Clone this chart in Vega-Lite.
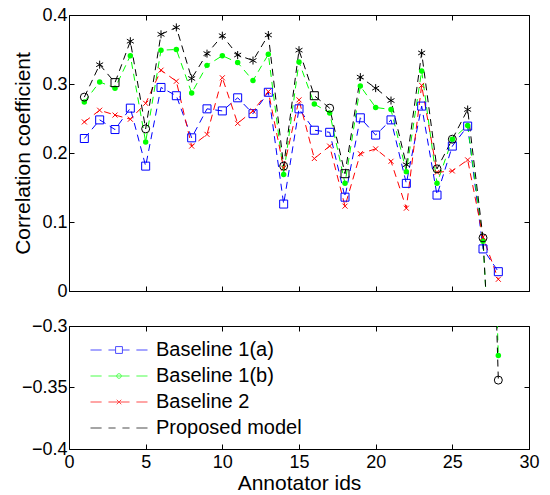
{
  "$schema": "https://vega.github.io/schema/vega-lite/v6.json",
  "padding": {"left": 12, "top": 5, "right": 10, "bottom": 5},
  "background": "white",
  "config": {
    "font": "Liberation Sans",
    "view": {"stroke": "black", "strokeWidth": 1},
    "axis": {
      "grid": false, "domain": false, "tickColor": "black", "tickSize": -5, "tickWidth": 1,
      "labelFont": "Liberation Sans", "labelFontSize": 18, "labelColor": "black",
      "titleFont": "Liberation Sans", "titleFontSize": 21, "titleFontWeight": "normal", "titleColor": "black",
      "labelFlush": false, "labelOverlap": false, "labelPadding": 9
    }
  },
  "datasets": {
    "d": [
      {"id": 1, "series": "Baseline 1(a)", "value": 0.221},
      {"id": 2, "series": "Baseline 1(a)", "value": 0.248},
      {"id": 3, "series": "Baseline 1(a)", "value": 0.234},
      {"id": 4, "series": "Baseline 1(a)", "value": 0.265},
      {"id": 5, "series": "Baseline 1(a)", "value": 0.181},
      {"id": 6, "series": "Baseline 1(a)", "value": 0.295},
      {"id": 7, "series": "Baseline 1(a)", "value": 0.283},
      {"id": 8, "series": "Baseline 1(a)", "value": 0.222},
      {"id": 9, "series": "Baseline 1(a)", "value": 0.264},
      {"id": 10, "series": "Baseline 1(a)", "value": 0.261},
      {"id": 11, "series": "Baseline 1(a)", "value": 0.280},
      {"id": 12, "series": "Baseline 1(a)", "value": 0.257},
      {"id": 13, "series": "Baseline 1(a)", "value": 0.288},
      {"id": 14, "series": "Baseline 1(a)", "value": 0.126},
      {"id": 15, "series": "Baseline 1(a)", "value": 0.264},
      {"id": 16, "series": "Baseline 1(a)", "value": 0.233},
      {"id": 17, "series": "Baseline 1(a)", "value": 0.230},
      {"id": 18, "series": "Baseline 1(a)", "value": 0.136},
      {"id": 19, "series": "Baseline 1(a)", "value": 0.251},
      {"id": 20, "series": "Baseline 1(a)", "value": 0.226},
      {"id": 21, "series": "Baseline 1(a)", "value": 0.248},
      {"id": 22, "series": "Baseline 1(a)", "value": 0.156},
      {"id": 23, "series": "Baseline 1(a)", "value": 0.268},
      {"id": 24, "series": "Baseline 1(a)", "value": 0.139},
      {"id": 25, "series": "Baseline 1(a)", "value": 0.210},
      {"id": 26, "series": "Baseline 1(a)", "value": 0.239},
      {"id": 27, "series": "Baseline 1(a)", "value": 0.061},
      {"id": 28, "series": "Baseline 1(a)", "value": 0.028},
      {"id": 1, "series": "Baseline 1(b)", "value": 0.274},
      {"id": 2, "series": "Baseline 1(b)", "value": 0.303},
      {"id": 3, "series": "Baseline 1(b)", "value": 0.294},
      {"id": 4, "series": "Baseline 1(b)", "value": 0.341},
      {"id": 5, "series": "Baseline 1(b)", "value": 0.216},
      {"id": 6, "series": "Baseline 1(b)", "value": 0.349},
      {"id": 7, "series": "Baseline 1(b)", "value": 0.350},
      {"id": 8, "series": "Baseline 1(b)", "value": 0.287},
      {"id": 9, "series": "Baseline 1(b)", "value": 0.327},
      {"id": 10, "series": "Baseline 1(b)", "value": 0.341},
      {"id": 11, "series": "Baseline 1(b)", "value": 0.331},
      {"id": 12, "series": "Baseline 1(b)", "value": 0.305},
      {"id": 13, "series": "Baseline 1(b)", "value": 0.343},
      {"id": 14, "series": "Baseline 1(b)", "value": 0.169},
      {"id": 15, "series": "Baseline 1(b)", "value": 0.332},
      {"id": 16, "series": "Baseline 1(b)", "value": 0.271},
      {"id": 17, "series": "Baseline 1(b)", "value": 0.258},
      {"id": 18, "series": "Baseline 1(b)", "value": 0.156},
      {"id": 19, "series": "Baseline 1(b)", "value": 0.297},
      {"id": 20, "series": "Baseline 1(b)", "value": 0.266},
      {"id": 21, "series": "Baseline 1(b)", "value": 0.263},
      {"id": 22, "series": "Baseline 1(b)", "value": 0.173},
      {"id": 23, "series": "Baseline 1(b)", "value": 0.319},
      {"id": 24, "series": "Baseline 1(b)", "value": 0.156},
      {"id": 25, "series": "Baseline 1(b)", "value": 0.220},
      {"id": 26, "series": "Baseline 1(b)", "value": 0.240},
      {"id": 27, "series": "Baseline 1(b)", "value": 0.072},
      {"id": 28, "series": "Baseline 1(b)", "value": -0.324},
      {"id": 1, "series": "Baseline 2", "value": 0.245},
      {"id": 2, "series": "Baseline 2", "value": 0.262},
      {"id": 3, "series": "Baseline 2", "value": 0.255},
      {"id": 4, "series": "Baseline 2", "value": 0.249},
      {"id": 5, "series": "Baseline 2", "value": 0.272},
      {"id": 6, "series": "Baseline 2", "value": 0.320},
      {"id": 7, "series": "Baseline 2", "value": 0.304},
      {"id": 8, "series": "Baseline 2", "value": 0.210},
      {"id": 9, "series": "Baseline 2", "value": 0.227},
      {"id": 10, "series": "Baseline 2", "value": 0.309},
      {"id": 11, "series": "Baseline 2", "value": 0.243},
      {"id": 12, "series": "Baseline 2", "value": 0.261},
      {"id": 13, "series": "Baseline 2", "value": 0.289},
      {"id": 14, "series": "Baseline 2", "value": 0.178},
      {"id": 15, "series": "Baseline 2", "value": 0.277},
      {"id": 16, "series": "Baseline 2", "value": 0.192},
      {"id": 17, "series": "Baseline 2", "value": 0.210},
      {"id": 18, "series": "Baseline 2", "value": 0.123},
      {"id": 19, "series": "Baseline 2", "value": 0.199},
      {"id": 20, "series": "Baseline 2", "value": 0.206},
      {"id": 21, "series": "Baseline 2", "value": 0.188},
      {"id": 22, "series": "Baseline 2", "value": 0.120},
      {"id": 23, "series": "Baseline 2", "value": 0.298},
      {"id": 24, "series": "Baseline 2", "value": 0.172},
      {"id": 25, "series": "Baseline 2", "value": 0.174},
      {"id": 26, "series": "Baseline 2", "value": 0.190},
      {"id": 27, "series": "Baseline 2", "value": 0.078},
      {"id": 28, "series": "Baseline 2", "value": 0.017},
      {"id": 1, "series": "Proposed model", "value": 0.281, "marker": "circle"},
      {"id": 2, "series": "Proposed model", "value": 0.328, "marker": "star"},
      {"id": 3, "series": "Proposed model", "value": 0.302, "marker": "square"},
      {"id": 4, "series": "Proposed model", "value": 0.362, "marker": "star"},
      {"id": 5, "series": "Proposed model", "value": 0.235, "marker": "circle"},
      {"id": 6, "series": "Proposed model", "value": 0.372, "marker": "star"},
      {"id": 7, "series": "Proposed model", "value": 0.382, "marker": "star"},
      {"id": 8, "series": "Proposed model", "value": 0.308, "marker": "star"},
      {"id": 9, "series": "Proposed model", "value": 0.344, "marker": "star"},
      {"id": 10, "series": "Proposed model", "value": 0.370, "marker": "star"},
      {"id": 11, "series": "Proposed model", "value": 0.342, "marker": "star"},
      {"id": 12, "series": "Proposed model", "value": 0.334, "marker": "star"},
      {"id": 13, "series": "Proposed model", "value": 0.371, "marker": "star"},
      {"id": 14, "series": "Proposed model", "value": 0.181, "marker": "circle"},
      {"id": 15, "series": "Proposed model", "value": 0.349, "marker": "star"},
      {"id": 16, "series": "Proposed model", "value": 0.283, "marker": "square"},
      {"id": 17, "series": "Proposed model", "value": 0.265, "marker": "circle"},
      {"id": 18, "series": "Proposed model", "value": 0.170, "marker": "square"},
      {"id": 19, "series": "Proposed model", "value": 0.310, "marker": "star"},
      {"id": 20, "series": "Proposed model", "value": 0.294, "marker": "star"},
      {"id": 21, "series": "Proposed model", "value": 0.276, "marker": "star"},
      {"id": 22, "series": "Proposed model", "value": 0.183, "marker": "star"},
      {"id": 23, "series": "Proposed model", "value": 0.345, "marker": "star"},
      {"id": 24, "series": "Proposed model", "value": 0.177, "marker": "circle"},
      {"id": 25, "series": "Proposed model", "value": 0.220, "marker": "circle"},
      {"id": 26, "series": "Proposed model", "value": 0.263, "marker": "star"},
      {"id": 27, "series": "Proposed model", "value": 0.077, "marker": "circle"},
      {"id": 28, "series": "Proposed model", "value": -0.344, "marker": "circle"}
    ]
  },
  "bounds": "flush",
  "spacing": 35,
  "resolve": {"legend": {"color": "independent", "shape": "independent"}},
  "vconcat": [
    {
      "width": 460, "height": 276,
      "data": {"name": "d"},
      "layer": [
        {
          "mark": {"type": "line", "strokeDash": [7, 5], "strokeWidth": 1, "clip": true},
          "encoding": {
            "x": {"field": "id", "type": "quantitative", "scale": {"domain": [0, 30]}, "axis": {"orient": "bottom", "values": [0, 5, 10, 15, 20, 25, 30], "labels": false, "title": null}},
            "y": {"field": "value", "type": "quantitative", "scale": {"domain": [0, 0.4]}, "axis": {"orient": "left", "values": [0, 0.1, 0.2, 0.3, 0.4], "format": "~g", "title": "Correlation coefficient", "labelPadding": 7, "titlePadding": 8}},
            "stroke": {"field": "series", "type": "nominal", "scale": {"domain": ["Baseline 1(a)", "Baseline 1(b)", "Baseline 2", "Proposed model"], "range": ["#0000ff", "#00ff00", "#ff0000", "#000000"]}, "legend": null}
          }
        },
        {
          "transform": [{"filter": "datum.series === 'Baseline 1(a)'"}],
          "mark": {"type": "point", "shape": "square", "size": 64, "filled": false, "color": "#0000ff", "strokeWidth": 1, "opacity": 1, "clip": true},
          "encoding": {"x": {"field": "id", "type": "quantitative", "axis": null}, "y": {"field": "value", "type": "quantitative", "axis": null}}
        },
        {
          "transform": [{"filter": "datum.series === 'Baseline 1(b)'"}],
          "mark": {"type": "point", "shape": "circle", "size": 30, "filled": true, "color": "#00ff00", "opacity": 1, "clip": true},
          "encoding": {"x": {"field": "id", "type": "quantitative", "axis": null}, "y": {"field": "value", "type": "quantitative", "axis": null}}
        },
        {
          "transform": [{"filter": "datum.series === 'Baseline 2'"}],
          "mark": {"type": "point", "shape": "M-1,-1L1,1M-1,1L1,-1", "size": 25, "filled": false, "color": "#ff0000", "strokeWidth": 1, "opacity": 1, "clip": true},
          "encoding": {"x": {"field": "id", "type": "quantitative", "axis": null}, "y": {"field": "value", "type": "quantitative", "axis": null}}
        },
        {
          "transform": [{"filter": "datum.marker === 'star'"}],
          "mark": {"type": "point", "shape": "M0,-1L0,1M-0.87,-0.5L0.87,0.5M-0.87,0.5L0.87,-0.5", "size": 64, "filled": false, "color": "#000000", "strokeWidth": 1, "opacity": 1, "clip": true},
          "encoding": {"x": {"field": "id", "type": "quantitative", "axis": null}, "y": {"field": "value", "type": "quantitative", "axis": null}}
        },
        {
          "transform": [{"filter": "datum.marker === 'circle'"}],
          "mark": {"type": "point", "shape": "circle", "size": 64, "filled": false, "color": "#000000", "strokeWidth": 1, "opacity": 1, "clip": true},
          "encoding": {"x": {"field": "id", "type": "quantitative", "axis": null}, "y": {"field": "value", "type": "quantitative", "axis": null}}
        },
        {
          "transform": [{"filter": "datum.marker === 'square'"}],
          "mark": {"type": "point", "shape": "square", "size": 64, "filled": false, "color": "#000000", "strokeWidth": 1, "opacity": 1, "clip": true},
          "encoding": {"x": {"field": "id", "type": "quantitative", "axis": null}, "y": {"field": "value", "type": "quantitative", "axis": null}}
        },
        {
          "mark": {"type": "point", "opacity": 0, "clip": true},
          "encoding": {
            "x": {"field": "id", "type": "quantitative", "axis": {"orient": "top", "values": [0, 5, 10, 15, 20, 25, 30], "labels": false, "title": null}},
            "y": {"field": "value", "type": "quantitative", "axis": {"orient": "right", "values": [0, 0.1, 0.2, 0.3, 0.4], "labels": false, "title": null}}
          }
        }
      ],
      "resolve": {"axis": {"x": "independent", "y": "independent"}}
    },
    {
      "width": 460, "height": 123,
      "data": {"name": "d"},
      "layer": [
        {
          "mark": {"type": "line", "strokeDash": [7, 5], "strokeWidth": 1, "clip": true},
          "encoding": {
            "x": {"field": "id", "type": "quantitative", "scale": {"domain": [0, 30]}, "axis": {"orient": "bottom", "values": [0, 5, 10, 15, 20, 25, 30], "format": "d", "title": "Annotator ids", "titlePadding": 1}},
            "y": {"field": "value", "type": "quantitative", "scale": {"domain": [-0.4, -0.3]}, "axis": {"orient": "left", "values": [-0.4, -0.35, -0.3], "format": "~g", "title": null, "labelPadding": 7}},
            "stroke": {"field": "series", "type": "nominal", "scale": {"domain": ["Baseline 1(a)", "Baseline 1(b)", "Baseline 2", "Proposed model"], "range": ["#0000ff", "#00ff00", "#ff0000", "#000000"]}, "legend": null}
          }
        },
        {
          "transform": [{"filter": "datum.series === 'Baseline 1(a)'"}],
          "mark": {"type": "point", "shape": "square", "size": 64, "filled": false, "color": "#0000ff", "strokeWidth": 1, "opacity": 1, "clip": true},
          "encoding": {"x": {"field": "id", "type": "quantitative", "axis": null}, "y": {"field": "value", "type": "quantitative", "axis": null}}
        },
        {
          "transform": [{"filter": "datum.series === 'Baseline 1(b)'"}],
          "mark": {"type": "point", "shape": "circle", "size": 30, "filled": true, "color": "#00ff00", "opacity": 1, "clip": true},
          "encoding": {"x": {"field": "id", "type": "quantitative", "axis": null}, "y": {"field": "value", "type": "quantitative", "axis": null}}
        },
        {
          "transform": [{"filter": "datum.series === 'Baseline 2'"}],
          "mark": {"type": "point", "shape": "M-1,-1L1,1M-1,1L1,-1", "size": 25, "filled": false, "color": "#ff0000", "strokeWidth": 1, "opacity": 1, "clip": true},
          "encoding": {"x": {"field": "id", "type": "quantitative", "axis": null}, "y": {"field": "value", "type": "quantitative", "axis": null}}
        },
        {
          "transform": [{"filter": "datum.marker === 'circle'"}],
          "mark": {"type": "point", "shape": "circle", "size": 64, "filled": false, "color": "#000000", "strokeWidth": 1, "opacity": 1, "clip": true},
          "encoding": {"x": {"field": "id", "type": "quantitative", "axis": null}, "y": {"field": "value", "type": "quantitative", "axis": null}}
        },
        {
          "mark": {"type": "point", "opacity": 0, "clip": true},
          "encoding": {
            "x": {"field": "id", "type": "quantitative", "axis": {"orient": "top", "values": [0, 5, 10, 15, 20, 25, 30], "labels": false, "title": null}},
            "y": {"field": "value", "type": "quantitative", "axis": {"orient": "right", "values": [-0.4, -0.35, -0.3], "labels": false, "title": null}}
          }
        },
        {
          "transform": [{"filter": "datum.id < 0"}],
          "mark": {"type": "point", "filled": false, "strokeWidth": 1, "clip": true},
          "encoding": {
            "x": {"field": "id", "type": "quantitative", "axis": null},
            "y": {"field": "value", "type": "quantitative", "axis": null},
            "color": {
              "field": "series", "type": "nominal",
              "scale": {"domain": ["Baseline 1(a)", "Baseline 1(b)", "Baseline 2", "Proposed model"], "range": ["#0000ff", "#00ff00", "#ff0000", "#000000"]},
              "legend": {
                "orient": "none", "legendX": 21, "legendY": 14, "title": null, "padding": 0,
                "labelFont": "Liberation Sans", "labelFontSize": 20, "labelColor": "black",
                "symbolSize": 3249, "symbolStrokeWidth": 1, "labelOffset": 8, "rowPadding": 6, "clipHeight": 20
              }
            },
            "shape": {
              "field": "series", "type": "nominal",
              "scale": {"domain": ["Baseline 1(a)", "Baseline 1(b)", "Baseline 2", "Proposed model"], "range": [
                "M-1,0H-0.61M-0.37,0H-0.12M0.12,0H0.37M0.61,0H1M-0.12,-0.12H0.12V0.12H-0.12Z",
                "M-1,0H-0.61M-0.37,0H0.37M0.61,0H1M0.08,0A0.08,0.08,0,1,1,-0.08,0A0.08,0.08,0,1,1,0.08,0Z",
                "M-1,0H-0.61M-0.37,0H0.37M0.61,0H1M-0.08,-0.08L0.08,0.08M-0.08,0.08L0.08,-0.08",
                "M-1,0H-0.61M-0.37,0H-0.12M0.12,0H0.37M0.61,0H1"
              ]},
              "legend": {
                "orient": "none", "legendX": 21, "legendY": 14, "title": null, "padding": 0,
                "labelFont": "Liberation Sans", "labelFontSize": 20, "labelColor": "black",
                "symbolSize": 3249, "symbolStrokeWidth": 1, "labelOffset": 8, "rowPadding": 6, "clipHeight": 20
              }
            }
          }
        }
      ],
      "resolve": {"axis": {"x": "independent", "y": "independent"}}
    }
  ]
}
